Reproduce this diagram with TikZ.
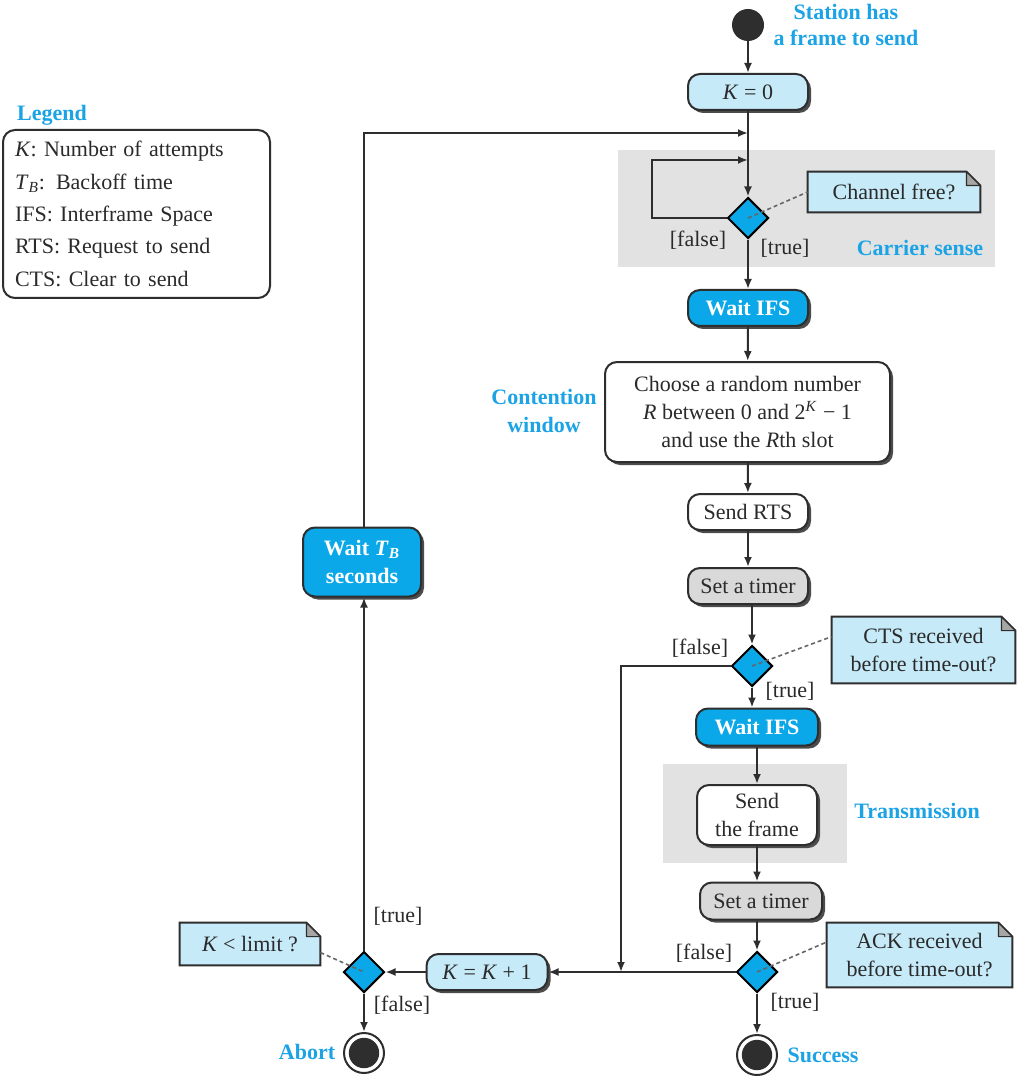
\documentclass[tikz,border=0pt]{standalone}
\usepackage{fontspec}
\setmainfont{Liberation Serif}
\usetikzlibrary{shapes.geometric,shadows,arrows.meta,calc,backgrounds}
\definecolor{lblue}{HTML}{C6EAF8}
\definecolor{dblue}{HTML}{0AA8E8}
\definecolor{tblue}{HTML}{1BA3E6}
\definecolor{lgray}{HTML}{D9D9D9}
\definecolor{rgray}{HTML}{E2E2E2}
\definecolor{edge}{HTML}{2E2E2E}
\definecolor{txt}{HTML}{2A2A2A}
\newcommand\notebg[1]{%
  \begin{scope}[on background layer]
    \filldraw[fill=lblue, draw=edge, line width=1pt]
      (#1.south west) -- (#1.north west) -- ([xshift=-7pt]#1.north east)
      -- ([yshift=-7pt]#1.north east) -- (#1.south east) -- cycle;
    \filldraw[fill=black!35, draw=edge, line width=0.6pt, line join=round]
      ([xshift=-7pt]#1.north east) -- ([xshift=-7pt,yshift=-7pt]#1.north east)
      -- ([yshift=-7pt]#1.north east) -- cycle;
  \end{scope}}
\tikzset{
  basefont/.style={font=\fontsize{11}{14}\selectfont},
  bf/.style={font=\fontsize{11}{14}\selectfont\bfseries},
  box/.style={draw=edge, line width=1pt, rounded corners=6pt, align=center,
    inner sep=0pt, text=txt,
    drop shadow={shadow xshift=1.5pt, shadow yshift=-1.5pt, fill=black!70, opacity=1}},
  smallbox/.style={box, minimum width=60pt, minimum height=18pt},
  darkbox/.style={smallbox, fill=dblue, text=white, bf},
  dec/.style={diamond, draw=black, line width=1pt, fill=dblue, minimum size=20.5pt, inner sep=0pt},
  note/.style={align=center, inner sep=0pt, text=txt},
  lab/.style={text=txt, inner sep=1pt},
  blab/.style={text=tblue, bf, align=center, inner sep=1pt},
  arr/.style={draw=edge, line width=1pt, -{Latex[length=5pt,width=4pt]}},
  dsh/.style={draw=black!60, line width=0.8pt, dash pattern=on 2pt off 1.5pt},
  region/.style={fill=rgray, inner sep=0pt},
  startdot/.style={circle, fill=edge, minimum size=16pt, inner sep=0pt},
  endnode/.style={circle, draw=edge, line width=1pt, fill=white, minimum size=20pt, inner sep=0pt,
    path picture={\fill[edge] (path picture bounding box.center) circle (7.6pt);}},
}
\begin{document}
\begin{tikzpicture}[x=0.5pt, y=-0.5pt, basefont]
\useasboundingbox (0,0) rectangle (1018,1080);

% page and shaded regions
\begin{scope}[on background layer]
  \fill[white] (0,0) rectangle (1018,1080);
  \node[region, minimum width=188.5pt, minimum height=58.5pt] (csreg) at (806.5,208.5) {};
  \node[region, minimum width=92pt, minimum height=49.5pt] (trreg) at (755,813.5) {};
\end{scope}

% legend
\node[blab] (lg) at (52,115) {Legend};
\node[draw=edge, line width=1pt, rounded corners=6pt, minimum width=133.5pt, minimum height=84pt,
  inner xsep=6pt, text width=121.5pt, align=left, text=txt, font=\fontsize{11}{16.2}\selectfont]
  (leg) at (136.5,214) {\textit{K}: Number of attempts\\
  \textit{T}\textsubscript{\textit{B}}: Backoff time\\
  IFS: Interframe Space\\
  RTS: Request to send\\
  CTS: Clear to send};

% main column
\node[startdot] (start) at (748,25) {};
\node[blab] (stlab) at (846,25) {Station has\\[-1pt]a frame to send};
\node[smallbox, fill=lblue] (k0) at (748,92) {\textit{K} = 0};
\coordinate (m1) at (748,133);
\coordinate (lc) at (652,160);
\node[dec] (d1) at (748,218) {};
\node[note, minimum width=86pt, minimum height=20pt] (n1) at (894,192) {Channel free?};
\notebg{n1}
\node[lab] (f1) at (698,240) {[false]};
\node[lab] (t1) at (785,248) {[true]};
\node[blab] (cs) at (920,248) {Carrier sense};
\node[darkbox] (w1) at (748,308) {Wait IFS};
\node[box, fill=white, minimum width=142.5pt, minimum height=50pt] (ch) at (747.5,412)
  {Choose a random number\\\textit{R} between 0 and 2\textsuperscript{\textit{K}} − 1\\and use the \textit{R}th slot};
\node[blab] (cw) at (544,411) {Contention\\window};
\node[smallbox, fill=white] (rts) at (748,512) {Send RTS};
\node[smallbox, fill=lgray] (tm1) at (748,586) {Set a timer};
\node[dec] (d2) at (752,666) {};
\node[note, minimum width=91.5pt, minimum height=33pt] (n2) at (923.5,650) {CTS received\\before time-out?};
\notebg{n2}
\node[lab] (f2) at (700,648) {[false]};
\node[lab] (t2) at (790,691) {[true]};
\node[darkbox, minimum width=61pt, minimum height=18.5pt] (w2) at (757,727) {Wait IFS};
\node[box, fill=white, minimum width=60pt, minimum height=30pt] (sf) at (757,815) {Send\\the frame};
\node[blab] (trl) at (917,811) {Transmission};
\node[smallbox, fill=lgray, minimum width=61pt, minimum height=18.5pt] (tm2) at (761,901) {Set a timer};
\node[dec] (d3) at (757,972) {};
\node[note, minimum width=92.5pt, minimum height=32pt] (n3) at (919.5,955) {ACK received\\before time-out?};
\notebg{n3}
\node[lab] (f3) at (704,953) {[false]};
\node[lab] (t3) at (795,1002) {[true]};
\node[endnode] (succ) at (757,1055) {};
\node[blab] (sl) at (823,1055) {Success};
\coordinate (fx) at (621,666);

% retry column
\node[smallbox, fill=lblue, minimum width=60.5pt] (kk) at (487,972) {\textit{K} = \textit{K} + 1};
\node[dec] (d4) at (364,972) {};
\node[note, minimum width=70pt, minimum height=21pt] (n4) at (250,944) {\textit{K} < limit ?};
\notebg{n4}
\node[lab] (t4) at (398,916) {[true]};
\node[lab] (f4) at (402,1005) {[false]};
\node[endnode] (ab) at (364,1053) {};
\node[blab] (al) at (307,1052) {Abort};
\node[darkbox, minimum width=59pt, minimum height=34.5pt] (wtb) at (362,562)
  {Wait \textit{T}\textsubscript{\textit{B}}\\seconds};

% connectors
\draw[arr] (start) -- (k0);
\draw[arr] (k0) -- (d1);
\draw[arr] (d1.west) -- (d1.west -| lc) -- (lc) -- (lc -| d1.north);
\draw[arr] (d1) -- (w1);
\draw[arr] (w1) -- (ch);
\draw[arr] (ch) -- (rts);
\draw[arr] (rts) -- (tm1);
\draw[arr] (d2.north |- tm1.south) -- (d2.north);
\draw[arr] (d2.south) -- (d2.south |- w2.north);
\draw[arr] (w2) -- (sf);
\draw[arr] (sf) -- (sf |- tm2.north);
\draw[arr] (d3.north |- tm2.south) -- (d3.north);
\draw[arr] (d3) -- (succ);
\draw[arr] (d2.west) -- (fx) -- (fx |- d3.west);
\draw[arr] (d3.west) -- (kk.east);
\draw[arr] (kk.west) -- (d4.east);
\draw[arr] (d4.north) -- (d4.north |- wtb.south);
\draw[arr] (d4.north |- wtb.north) |- (m1);
\draw[arr] (d4) -- (ab);

% note links
\draw[dsh] (d1.center) -- (n1.west);
\draw[dsh] (d2.center) -- ($(n2.north west)!0.3!(n2.south west)$);
\draw[dsh] (d3.center) -- ($(n3.north west)!0.3!(n3.south west)$);
\draw[dsh] ($(n4.north east)!0.7!(n4.south east)$) -- (d4.center);
\end{tikzpicture}
\end{document}
